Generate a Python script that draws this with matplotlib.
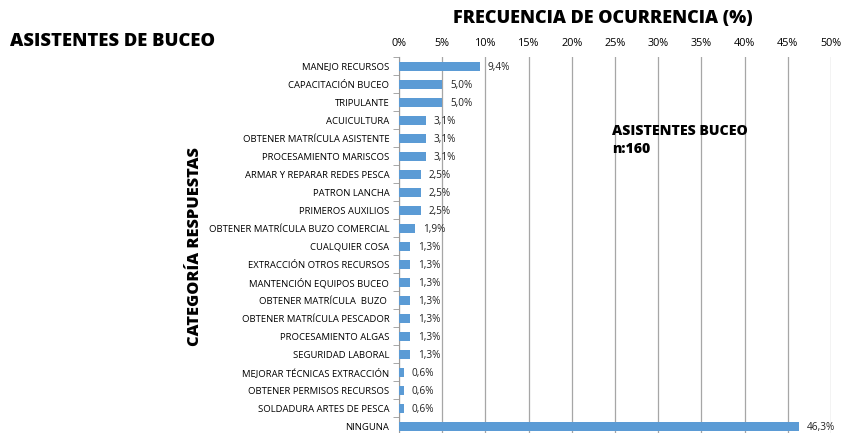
import matplotlib
matplotlib.use("Agg")
import matplotlib.pyplot as plt
import numpy as np

categorias = [
    "MANEJO RECURSOS", "CAPACITACIÓN BUCEO", "TRIPULANTE", "ACUICULTURA",
    "OBTENER MATRÍCULA ASISTENTE", "PROCESAMIENTO MARISCOS",
    "ARMAR Y REPARAR REDES PESCA", "PATRON LANCHA", "PRIMEROS AUXILIOS",
    "OBTENER MATRÍCULA BUZO COMERCIAL", "CUALQUIER COSA",
    "EXTRACCIÓN OTROS RECURSOS", "MANTENCIÓN EQUIPOS BUCEO",
    "OBTENER MATRÍCULA  BUZO ", "OBTENER MATRÍCULA PESCADOR",
    "PROCESAMIENTO ALGAS", "SEGURIDAD LABORAL",
    "MEJORAR TÉCNICAS EXTRACCIÓN", "OBTENER PERMISOS RECURSOS",
    "SOLDADURA ARTES DE PESCA", "NINGUNA",
]
valores = [9.4, 5.0, 5.0, 3.1, 3.1, 3.1, 2.5, 2.5, 2.5, 1.9, 1.3,
           1.3, 1.3, 1.3, 1.3, 1.3, 1.3, 0.6, 0.6, 0.6, 46.3]
ticks_x = [0, 5, 10, 15, 20, 25, 30, 35, 40, 45, 50]

plt.rcParams['font.family'] = ['Open Sans', 'DejaVu Sans']

fig = plt.figure(figsize=(8.43, 4.33), dpi=100)
ax = fig.add_axes([399 / 843, -2 / 433, 432 / 843, 378 / 433])

y = np.arange(len(categorias))
ax.barh(y, valores, height=0.5, color="#5B9BD5", zorder=3)
for yi, v in zip(y, valores):
    ax.text(v + 0.9, yi + 0.1, f"{v:.1f}%".replace(".", ","), va="center",
            ha="left", fontsize=7.2, color="#222222", zorder=4)

ax.set_ylim(len(categorias) - 0.5, -0.5)
ax.set_xlim(0, 50)
ax.set_xticks(ticks_x)
ax.set_xticklabels([f"{t}%" for t in ticks_x], fontsize=7.8)
ax.xaxis.tick_top()
ax.tick_params(axis="x", length=0, pad=6)
ax.set_yticks(y)
ax.set_yticklabels(categorias, fontsize=6.8)
ax.set_yticks(np.arange(len(categorias) + 1) - 0.5, minor=True)
ax.tick_params(axis="y", which="major", length=0, pad=7)
ax.tick_params(axis="y", which="minor", length=4, color="#999999", direction="out")
ax.grid(axis="x", color="#A6A6A6", linewidth=0.9, zorder=0)
for s in ["top", "right", "bottom"]:
    ax.spines[s].set_visible(False)
ax.spines["left"].set_color("#999999")

fig.text(10 / 843, 1 - 42 / 433, "ASISTENTES DE BUCEO", fontsize=13.2,
         fontweight="heavy", va="center", ha="left")
fig.text(603 / 843, 1 - 19 / 433, "FRECUENCIA DE OCURRENCIA (%)", fontsize=13,
         fontweight="heavy", va="center", ha="center")
fig.text(195 / 843, 1 - 247 / 433, "CATEGORÍA RESPUESTAS", fontsize=11.8,
         fontweight="heavy", va="center", ha="center", rotation=90)
fig.text(612 / 843, 1 - 140 / 433, "ASISTENTES BUCEO\nn:160", fontsize=10.2,
         fontweight="heavy", va="center", ha="left", linespacing=1.3)

fig.savefig("out.png", dpi=100)
